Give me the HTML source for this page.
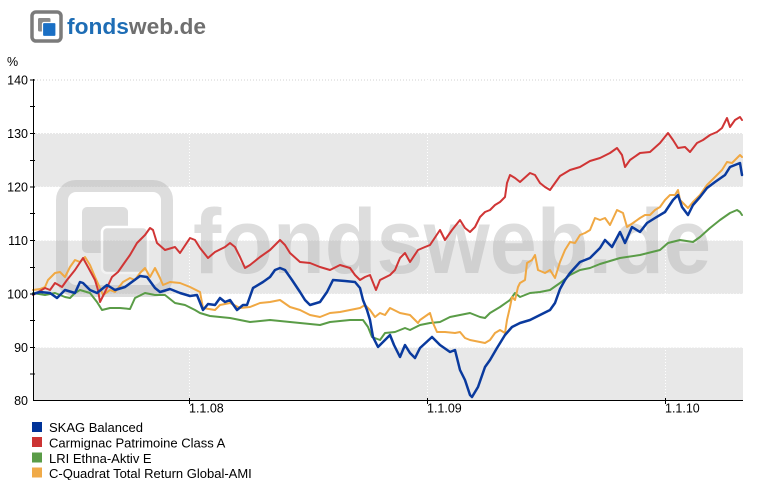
<!DOCTYPE html>
<html><head><meta charset="utf-8"><style>
html,body{margin:0;padding:0;background:#fff;}
svg{display:block;}
text{font-family:"Liberation Sans",Arial,sans-serif;}
</style></head><body>
<svg width="775" height="480" viewBox="0 0 775 480" xmlns="http://www.w3.org/2000/svg">
<!-- header logo -->
<rect x="32" y="12" width="29" height="29" rx="4" fill="#fff" stroke="#7b7b7b" stroke-width="3.5"/>
<rect x="38" y="18" width="12.5" height="13.5" rx="1.5" fill="#8a8a8a"/>
<rect x="42.5" y="22.5" width="13.5" height="14" rx="1.5" fill="#1a6fc4" stroke="#fff" stroke-width="1.2"/>
<text x="67" y="34" font-family="DejaVu Sans" font-weight="bold" font-size="22" textLength="139" lengthAdjust="spacingAndGlyphs"><tspan fill="#1e6db5">fonds</tspan><tspan fill="#6f6f6f">web.de</tspan></text>

<!-- bands -->
<rect x="33" y="133" width="710" height="54" fill="#e8e8e8"/>
<rect x="33" y="240.5" width="710" height="53.5" fill="#e8e8e8"/>
<rect x="33" y="347.5" width="710" height="53" fill="#e8e8e8"/>

<!-- grid lines -->
<g stroke-dasharray="1,2" stroke-width="1">
<line x1="34" y1="80" x2="743" y2="80" stroke="#d0d0d0"/>
<line x1="34" y1="133.5" x2="743" y2="133.5" stroke="#fff"/>
<line x1="34" y1="187" x2="743" y2="187" stroke="#fff"/>
<line x1="34" y1="240.5" x2="743" y2="240.5" stroke="#fff"/>
<line x1="34" y1="294" x2="743" y2="294" stroke="#fff"/>
<line x1="34" y1="347.5" x2="743" y2="347.5" stroke="#fff"/>
<line x1="189.5" y1="80" x2="189.5" y2="400" stroke="#fff"/>
<line x1="427.5" y1="80" x2="427.5" y2="400" stroke="#fff"/>
<line x1="665.5" y1="80" x2="665.5" y2="400" stroke="#fff"/>
</g>

<!-- watermark -->
<g opacity="0.45">
<rect x="62" y="186" width="105" height="105" rx="14" fill="none" stroke="#b4b4b4" stroke-width="12"/>
<rect x="82" y="207" width="46" height="46" rx="5" fill="#b4b4b4"/>
<rect x="102" y="227" width="46" height="46" rx="5" fill="#b4b4b4" stroke="#fff" stroke-width="2.5"/>
<text x="193" y="273" font-family="DejaVu Sans" font-weight="bold" font-size="92" fill="#b4b4b4" textLength="518" lengthAdjust="spacingAndGlyphs">fondsweb.de</text>
</g>

<!-- series -->
<g fill="none" stroke-linejoin="round" stroke-linecap="round">
<polyline stroke="#5a9c47" stroke-width="2" points="33,293 45,295 55,293 65,297 70,298 75,293 80,290 90,293 97,302 102,310 110,308 120,308 130,309 135,298 145,293 155,295 165,295 175,303 185,305 195,310 200,313 210,316 220,317 230,318 250,322 270,320 290,322 310,324 320,325 330,322 350,320 363,320 368,327 372,337 380,340 385,333 395,332 405,328 410,330 420,325 430,323 440,322 450,317 460,315 470,313 480,317 485,318 490,313 500,307 510,300 515,293 520,297 530,293 540,292 550,290 560,283 570,275 580,270 590,268 600,264 620,258 640,255 660,250 668,243 680,240 693,242 700,237 710,228 720,220 730,213 737,210 740,212 742,215"/>
<polyline stroke="#f0a843" stroke-width="2" points="33,290 40,289 45,287 48,280 55,273 60,272 65,277 70,267 75,260 80,262 85,257 90,265 95,277 100,288 103,295 110,290 115,292 123,282 130,278 135,280 140,273 145,268 150,277 155,268 160,278 163,285 170,282 180,283 190,287 200,292 203,308 215,310 220,305 230,303 240,308 250,307 260,303 270,302 280,300 290,307 300,310 310,315 320,317 330,313 340,312 350,310 360,308 365,305 370,310 375,317 380,313 385,315 390,308 400,313 410,315 418,323 420,320 430,313 433,323 437,332 445,332 455,333 460,332 465,338 470,340 480,342 485,343 490,340 495,333 500,330 505,333 507,320 510,307 512,297 515,300 518,287 520,283 525,280 527,263 532,260 535,255 538,270 545,273 550,270 555,278 560,262 565,250 570,242 575,243 580,235 585,233 590,230 595,218 600,220 605,218 610,225 617,210 623,213 627,227 633,223 640,218 645,215 650,215 655,210 660,207 665,200 670,195 675,195 678,190 680,200 688,208 693,202 700,195 707,185 715,177 722,170 727,162 732,163 737,158 740,155 742,157"/>
<polyline stroke="#d03535" stroke-width="2" points="33,295 40,291 45,288 50,290 55,283 62,287 67,280 75,270 83,258 88,267 95,280 98,290 100,302 105,292 112,277 118,272 125,262 130,255 137,243 145,235 150,228 153,230 157,243 165,250 175,247 180,253 190,238 195,240 200,248 208,258 215,252 225,247 230,243 235,247 240,257 245,268 250,265 260,257 270,250 280,240 285,245 290,253 300,262 310,263 320,267 330,270 340,265 350,268 355,275 360,280 365,277 370,275 376,290 380,280 390,275 395,270 400,258 405,253 410,262 418,250 425,247 430,245 440,230 445,240 452,230 460,220 465,228 470,232 475,227 480,217 485,212 490,210 495,205 500,202 505,197 507,183 510,175 515,178 520,182 530,173 535,175 540,183 545,187 550,190 555,183 560,176 570,170 580,167 590,161 600,158 610,153 617,148 622,155 625,167 630,160 640,153 650,152 660,143 668,133 673,140 678,148 685,147 690,152 697,143 703,140 710,135 717,132 722,128 727,118 730,127 735,120 740,117 742,120"/>
<polyline stroke="#0a3a9e" stroke-width="2.5" points="33,294 40,292 50,293 57,298 65,290 75,293 80,282 83,283 90,290 97,293 107,285 115,290 125,287 140,276 147,277 155,288 160,292 170,289 180,293 190,296 197,295 203,310 208,304 215,305 220,298 225,302 230,300 237,310 243,305 247,305 253,288 263,282 270,277 275,270 280,268 285,270 292,280 300,292 305,300 310,305 320,302 327,292 333,280 345,281 355,282 360,288 363,300 367,310 370,320 373,337 378,347 385,340 390,335 394,345 400,357 405,345 410,353 415,358 420,348 432,337 440,345 450,352 455,350 460,370 465,380 470,395 472,397 478,387 485,367 490,360 497,348 505,335 512,327 520,323 530,320 540,315 550,310 555,303 560,289 565,280 570,273 580,262 590,258 600,248 605,240 612,247 620,232 625,243 632,227 640,232 647,223 655,218 665,212 673,200 678,195 682,207 688,215 693,205 700,197 707,188 715,182 725,175 730,167 735,165 740,163 742,175"/>
</g>

<!-- axes -->
<g stroke="#000" stroke-width="1">
<line x1="33.5" y1="79" x2="33.5" y2="400.5"/>
<line x1="33" y1="400.5" x2="743" y2="400.5"/>
<line x1="30" y1="80" x2="35" y2="80"/>
<line x1="30" y1="106.5" x2="35" y2="106.5"/>
<line x1="30" y1="133.5" x2="35" y2="133.5"/>
<line x1="30" y1="160.5" x2="35" y2="160.5"/>
<line x1="30" y1="187" x2="35" y2="187"/>
<line x1="30" y1="213.5" x2="35" y2="213.5"/>
<line x1="30" y1="240.5" x2="35" y2="240.5"/>
<line x1="30" y1="267.5" x2="35" y2="267.5"/>
<line x1="30" y1="294" x2="35" y2="294"/>
<line x1="30" y1="320.5" x2="35" y2="320.5"/>
<line x1="30" y1="347.5" x2="35" y2="347.5"/>
<line x1="30" y1="374" x2="35" y2="374"/>
<line x1="189.5" y1="398" x2="189.5" y2="404"/>
<line x1="427.5" y1="398" x2="427.5" y2="404"/>
<line x1="665.5" y1="398" x2="665.5" y2="404"/>
</g>

<g font-size="12.5" fill="#000">
<text x="7" y="66">%</text>
<text x="28" y="84.5" text-anchor="end">140</text>
<text x="28" y="138" text-anchor="end">130</text>
<text x="28" y="191.5" text-anchor="end">120</text>
<text x="28" y="245" text-anchor="end">110</text>
<text x="28" y="298.5" text-anchor="end">100</text>
<text x="28" y="352" text-anchor="end">90</text>
<text x="28" y="405" text-anchor="end">80</text>
<text x="189" y="412.5">1.1.08</text>
<text x="427" y="412.5">1.1.09</text>
<text x="665" y="412.5">1.1.10</text>
</g>

<!-- legend -->
<rect x="32" y="422" width="10" height="10" fill="#003399"/>
<rect x="32" y="437" width="10" height="10" fill="#cc3333"/>
<rect x="32" y="452.5" width="10" height="10" fill="#5a9c47"/>
<rect x="32" y="467.5" width="10" height="10" fill="#f0aa48"/>
<g font-size="13" fill="#000">
<text x="49" y="432">SKAG Balanced</text>
<text x="49" y="447.5">Carmignac Patrimoine Class A</text>
<text x="49" y="463">LRI Ethna-Aktiv E</text>
<text x="49" y="478">C-Quadrat Total Return Global-AMI</text>
</g>
</svg>
</body></html>
